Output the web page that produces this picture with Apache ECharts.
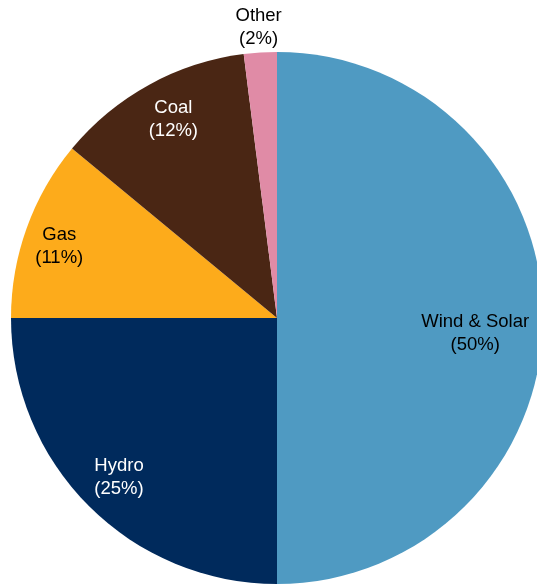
<!DOCTYPE html>
<html>
<head>
<meta charset="utf-8">
<script src="https://cdn.jsdelivr.net/npm/echarts@6/dist/echarts.min.js"></script>
<style>
html,body{margin:0;padding:0;background:#fff;}
#chart{width:537px;height:584px;}
</style>
</head>
<body>
<div id="chart"></div>
<script>
const categories = ['Wind & Solar', 'Hydro', 'Gas', 'Coal', 'Other'];
const values = [50, 25, 11, 12, 2];
const sliceColors = ['#4f9ac2', '#002a5c', '#fdab1b', '#4a2614', '#e08ba6'];
const labelColors = ['#000000', '#ffffff', '#000000', '#ffffff', '#000000'];
// label placement: radial fraction of radius, plus small pixel nudges
const labelRadius = [0.745, 0.84, 0.87, 0.84, 1.10];
const labelNudgeX = [0, 0, 0, 4, 0];
const labelNudgeY = [15, 1, 7, -3, 1];

const CX = 277, CY = 318, R = 266;
const total = values.reduce((a, b) => a + b, 0);
const midAngles = [];
let cum = 0;
values.forEach(v => { midAngles.push((cum + v / 2) / total * 2 * Math.PI); cum += v; });

const chart = echarts.init(document.getElementById('chart'), null, {renderer: 'canvas'});
chart.setOption({
  animation: false,
  backgroundColor: '#ffffff',
  series: [{
    type: 'pie',
    center: [CX, CY],
    radius: [0, R],
    startAngle: 90,
    clockwise: true,
    avoidLabelOverlap: false,
    itemStyle: {borderWidth: 0},
    label: {
      show: true,
      position: 'inside',
      formatter: p => p.name + '\n(' + p.value + '%)',
      fontFamily: 'Liberation Sans, Arial, sans-serif',
      fontSize: 18.5,
      lineHeight: 23,
      align: 'center'
    },
    labelLine: {show: false},
    labelLayout: function (params) {
      const i = params.dataIndex;
      const a = midAngles[i];
      const f = labelRadius[i];
      return {
        x: CX + R * f * Math.sin(a) + labelNudgeX[i],
        y: CY - R * f * Math.cos(a) + labelNudgeY[i],
        align: 'center',
        verticalAlign: 'middle'
      };
    },
    data: categories.map((c, i) => ({
      name: c,
      value: values[i],
      itemStyle: {color: sliceColors[i]},
      label: i === 4
        ? {position: 'outside', color: labelColors[i]}
        : {color: labelColors[i]}
    }))
  }]
});
</script>
</body>
</html>
